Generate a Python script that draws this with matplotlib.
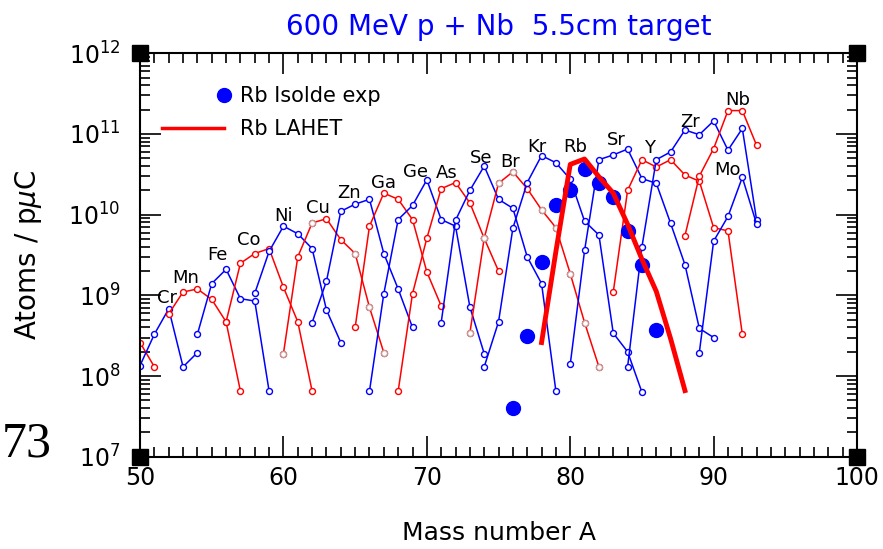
import numpy as np
import matplotlib
matplotlib.use('Agg')
import matplotlib.pyplot as plt
from matplotlib.lines import Line2D
from matplotlib.legend_handler import HandlerLine2DCompound
from matplotlib.ticker import LogLocator, MultipleLocator, NullFormatter

# isotope yields, atoms / pμC  (mass number, value)
v_A = [50, 51]
v_y = [2.6e8, 1.3e8]
cr_A = [50, 51, 52, 53, 54]
cr_y = [1.35e8, 3.3e8, 6.8e8, 1.3e8, 1.95e8]
mn_A = [52, 53, 54, 55, 56, 57]
mn_y = [5.9e8, 1.1e9, 1.2e9, 8.9e8, 4.7e8, 6.5e7]
fe_A = [54, 55, 56, 57, 58, 59]
fe_y = [3.3e8, 1.4e9, 2.1e9, 9.1e8, 8.5e8, 6.5e7]
co_A = [56, 57, 58, 59, 60, 61, 62]
co_y = [4.7e8, 2.5e9, 3.3e9, 3.8e9, 1.26e9, 4.7e8, 6.5e7]
ni_A = [58, 59, 60, 61, 62, 63, 64]
ni_y = [1.06e9, 3.5e9, 7.2e9, 5.8e9, 3.8e9, 6.6e8, 2.6e8]
cu_A = [60, 61, 62, 63, 64, 65, 66, 67]
cu_y = [1.9e8, 3.0e9, 7.9e9, 8.9e9, 4.9e9, 3.3e9, 7.1e8, 1.95e8]
zn_A = [62, 63, 64, 65, 66, 67, 68, 69]
zn_y = [4.6e8, 1.5e9, 1.1e10, 1.35e10, 1.55e10, 3.3e9, 1.2e9, 4.0e8]
ga_A = [65, 66, 67, 68, 69, 70, 71]
ga_y = [4.0e8, 7.2e9, 1.85e10, 1.55e10, 8.7e9, 1.95e9, 7.4e8]
ge_A = [66, 67, 68, 69, 70, 71, 72, 73, 74]
ge_y = [6.5e7, 1.05e9, 8.7e9, 1.3e10, 2.7e10, 8.7e9, 7.2e9, 7.2e8, 1.9e8]
as_A = [68, 69, 70, 71, 72, 73, 74, 75]
as_y = [6.5e7, 1.05e9, 5.1e9, 2.1e10, 2.5e10, 1.4e10, 5.1e9, 2.0e9]
se_A = [71, 72, 73, 74, 75, 76, 77, 78, 79]
se_y = [4.6e8, 8.5e9, 2.0e10, 4.0e10, 1.55e10, 1.2e10, 3.0e9, 1.4e9, 6.5e7]
br_A = [73, 74, 75, 76, 77, 78, 79, 80, 81, 82]
br_y = [3.4e8, 5.1e9, 2.45e10, 3.4e10, 2.1e10, 1.15e10, 6.9e9, 1.86e9, 4.6e8, 1.3e8]
kr_A = [74, 75, 76, 77, 78, 79, 80, 81, 82, 83, 84, 85]
kr_y = [1.3e8, 4.7e8, 6.8e9, 2.5e10, 5.4e10, 4.4e10, 2.75e10, 8.3e9, 5.6e9, 3.4e8, 2.0e8, 6.3e7]
sr_A = [80, 81, 82, 83, 84, 85, 86, 87, 88, 89, 90]
sr_y = [1.4e8, 3.6e9, 4.8e10, 5.5e10, 6.5e10, 2.8e10, 2.45e10, 7.8e9, 2.4e9, 3.9e8, 3.0e8]
y_A = [83, 84, 85, 86, 87, 88, 89, 90, 91, 92]
y_y = [1.1e9, 2.0e10, 4.8e10, 3.9e10, 4.8e10, 3.1e10, 2.6e10, 6.9e9, 6.3e9, 3.3e8]
zr_A = [84, 85, 86, 87, 88, 89, 90, 91, 92, 93]
zr_y = [1.3e8, 4.0e9, 4.8e10, 6.0e10, 1.12e11, 9.8e10, 1.45e11, 6.3e10, 1.17e11, 8.5e9]
nb_A = [88, 89, 90, 91, 92, 93]
nb_y = [5.5e9, 3.0e10, 6.6e10, 1.95e11, 1.95e11, 7.2e10]
mo_A = [89, 90, 91, 92, 93]
mo_y = [1.95e8, 4.7e9, 9.5e9, 2.9e10, 7.6e9]

# Rb measurement and calculation
iso_A = [76, 77, 78, 79, 80, 81, 82, 83, 84, 85, 86]
iso_y = [4.0e7, 3.1e8, 2.6e9, 1.3e10, 2.05e10, 3.7e10, 2.5e10, 1.65e10, 6.3e9, 2.4e9, 3.7e8]
lahet_A = [78, 79, 80, 81, 82, 83, 84, 85, 86, 87, 88]
lahet_y = [2.6e8, 3.5e9, 4.2e10, 4.9e10, 2.95e10, 1.85e10, 7.6e9, 2.8e9, 1.12e9, 2.9e8, 6.6e7]

# points drawn with a greyish marker
cu_grey = [60, 62, 65, 66, 67]
as_grey = [74]
br_grey = [73, 74, 75, 76, 78, 79, 80, 81, 82]

names = ['Cr', 'Mn', 'Fe', 'Co', 'Ni', 'Cu', 'Zn', 'Ga', 'Ge', 'As', 'Se', 'Br',
         'Kr', 'Rb', 'Sr', 'Y', 'Zr', 'Nb', 'Mo']
# label positions (A, log10 y)
name_pos = [(51.9, 8.97), (53.15, 9.22), (55.4, 9.5), (57.55, 9.69), (60.0, 9.98),
            (62.4, 10.08), (64.6, 10.27), (67.0, 10.39), (69.2, 10.53), (71.4, 10.52),
            (73.8, 10.7), (75.8, 10.65), (77.7, 10.84), (80.35, 10.84), (83.2, 10.93),
            (85.55, 10.83), (88.35, 11.15), (91.7, 11.42), (90.95, 10.55)]

BLUE = '#0000ff'
RED = '#ff0000'
GREY = '#c49a9a'

curves = [(v_A, v_y, RED, []), (cr_A, cr_y, BLUE, []), (mn_A, mn_y, RED, []),
          (fe_A, fe_y, BLUE, []), (co_A, co_y, RED, []), (ni_A, ni_y, BLUE, []),
          (cu_A, cu_y, RED, cu_grey), (zn_A, zn_y, BLUE, []), (ga_A, ga_y, RED, []),
          (ge_A, ge_y, BLUE, []), (as_A, as_y, RED, as_grey), (se_A, se_y, BLUE, []),
          (br_A, br_y, RED, br_grey), (kr_A, kr_y, BLUE, []), (sr_A, sr_y, BLUE, []),
          (y_A, y_y, RED, []), (zr_A, zr_y, BLUE, []), (nb_A, nb_y, RED, []),
          (mo_A, mo_y, BLUE, [])]


class RightDot(HandlerLine2DCompound):
    # legend dot at the right end of the handle box
    def get_xdata(self, legend, xdescent, ydescent, width, height, fontsize):
        xd, xm = super().get_xdata(legend, xdescent, ydescent, width, height, fontsize)
        return xd, np.array([xd[-1]])


fig = plt.figure(figsize=(8.83, 5.49), dpi=100)
ax = fig.add_axes([0.1586, 0.1681, 0.812, 0.7348])

for A, y, c, grey in curves:
    ax.plot(A, y, '-', color=c, lw=1.1, marker='o', ms=4.3, mfc='white', mec=c, mew=1.0, zorder=2)
    ga = [a for a in A if a in grey]
    gy = [y[A.index(a)] for a in ga]
    if ga:
        ax.plot(ga, gy, 'o', ls='none', ms=4.3, mfc='white', mec=GREY, mew=1.0, zorder=2.5)

ax.plot(iso_A, iso_y, 'o', ls='none', color=BLUE, ms=10, zorder=4)
ax.plot(lahet_A, lahet_y, '-', color=RED, lw=3.5, zorder=5)

for n, (a, ly) in zip(names, name_pos):
    ax.text(a, 10 ** ly, n, fontsize=13, ha='center', va='center', zorder=6)

ax.set_xlim(50, 100)
ax.set_yscale('log')
ax.set_ylim(1e7, 1e12)
ax.xaxis.set_major_locator(MultipleLocator(10))
ax.xaxis.set_minor_locator(MultipleLocator(1))
ax.yaxis.set_major_locator(LogLocator(base=10, numticks=10))
ax.yaxis.set_minor_locator(LogLocator(base=10, subs=np.arange(2, 10), numticks=10))
ax.yaxis.set_minor_formatter(NullFormatter())
ax.tick_params(which='both', direction='in', top=True, right=True, width=1.2)
ax.tick_params(which='major', length=15, labelsize=17)
ax.tick_params(which='minor', length=7)
ax.tick_params(axis='x', pad=7)
ax.tick_params(axis='y', pad=14)
for s in ax.spines.values():
    s.set_linewidth(1.5)

# black squares at the corners
ax.plot([0, 1, 0, 1], [0, 0, 1, 1], 's', ls='none', color='black', ms=11,
        transform=ax.transAxes, clip_on=False, zorder=10)

ax.set_title('600 MeV p + Nb  5.5cm target', color=BLUE, fontsize=20, pad=13)
ax.set_xlabel('Mass number A', fontsize=18, va='top')
ax.xaxis.set_label_coords(0.5, -0.16)
ax.set_ylabel('Atoms / p$\\mu$C', fontsize=20)
ax.yaxis.set_label_coords(-0.134, 0.5)

h1 = Line2D([], [], ls='none', marker='o', color=BLUE, ms=10)
h2 = Line2D([], [], color=RED, lw=2.5)
ax.legend([h1, h2], ['Rb Isolde exp', 'Rb LAHET'], loc='upper left',
          bbox_to_anchor=(0.03, 0.918), frameon=False, fontsize=15, numpoints=1,
          handlelength=3.0, handletextpad=0.75, borderpad=0, borderaxespad=0,
          labelspacing=0.6, handler_map={h1: RightDot()})

fig.text(0.002, 1 - 444 / 549, '73', fontsize=36, family='Liberation Serif',
         ha='left', va='center')

fig.savefig('out.png', dpi=100)
